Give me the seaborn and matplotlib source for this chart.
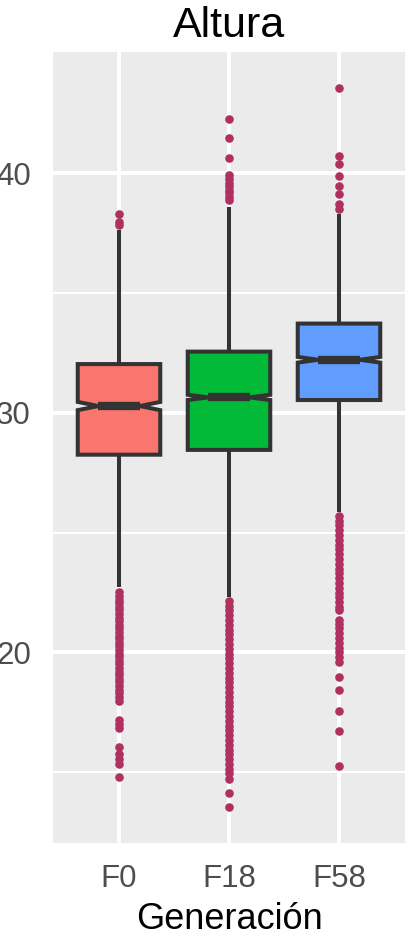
import matplotlib
matplotlib.use("Agg")
import matplotlib.pyplot as plt
import pandas as pd
import seaborn as sns

# ---------------- data ----------------
generaciones = ["F0", "F18", "F58"]
colores = ["#F8766D", "#00BA38", "#619CFF"]
color_atipico = "#B03060"

q1 = [28.25, 28.45, 30.53]
mediana = [30.28, 30.64, 32.21]
q3 = [32.03, 32.55, 33.72]
bigote_inf = [22.72, 22.33, 25.85]
bigote_sup = [37.61, 38.58, 38.30]
n_obs = [1200, 3500, 1800]

atip_inf_F0 = [22.52, 22.35, 22.2, 22.05, 21.9, 21.75, 21.6, 21.45, 21.3, 21.15,
               21.0, 20.85, 20.7, 20.55, 20.4, 20.25, 20.1, 19.95, 19.8, 19.65,
               19.5, 19.35, 19.2, 19.05, 18.9, 18.75, 18.6, 18.45, 18.3, 18.15,
               17.97, 17.2, 17.0, 16.85, 16.06, 15.75, 15.55, 15.35, 14.8]
atip_sup_F0 = [38.31, 37.95, 37.83]

atip_inf_F18 = [22.13, 21.95, 21.75, 21.55, 21.35, 21.15, 20.95, 20.75, 20.55, 20.35,
                20.15, 19.95, 19.75, 19.55, 19.35, 19.15, 18.95, 18.75, 18.55, 18.35,
                18.15, 17.95, 17.75, 17.55, 17.35, 17.15, 16.95, 16.75, 16.55, 16.35,
                16.15, 15.95, 15.75, 15.55, 15.35, 15.15, 14.95, 14.73, 14.15, 13.55]
atip_sup_F18 = [42.24, 41.45, 40.61, 39.92, 39.75, 39.6, 39.45, 39.3, 39.15, 39.0, 38.87]

atip_inf_F58 = [25.7, 25.5, 25.3, 25.1, 24.9, 24.7, 24.5, 24.3, 24.1, 23.9,
                23.7, 23.5, 23.3, 23.1, 22.9, 22.7, 22.5, 22.3, 22.1, 21.9,
                21.75, 21.35, 21.2, 21.0, 20.8, 20.6, 20.4, 20.2, 20.0, 19.8,
                19.62, 18.97, 18.42, 17.54, 16.72, 15.26]
atip_sup_F58 = [43.55, 40.71, 40.36, 39.88, 39.46, 39.11, 38.70, 38.52]

atipicos_inf = [atip_inf_F0, atip_inf_F18, atip_inf_F58]
atipicos_sup = [atip_sup_F0, atip_sup_F18, atip_sup_F58]


# Build a sample for each group that reproduces the read box statistics
def muestra(i):
    lo = sorted(atipicos_inf[i])
    hi = sorted(atipicos_sup[i])
    N = n_obs[i]
    L = len(lo) + 1
    H = len(hi) + 1
    p25, p50, p75 = 0.25 * (N - 1), 0.5 * (N - 1), 0.75 * (N - 1)
    b1 = int(round((p25 + p50) / 2))
    b2 = int(round((p50 + p75) / 2))
    vals = (lo + [bigote_inf[i]]
            + [q1[i]] * (b1 - L)
            + [mediana[i]] * (b2 - b1)
            + [q3[i]] * (N - H - b2)
            + [bigote_sup[i]] + hi)
    return vals


filas = []
for i, g in enumerate(generaciones):
    for v in muestra(i):
        filas.append((g, v))
df = pd.DataFrame(filas, columns=["Generación", "Altura"])

# ---------------- plot ----------------
sns.set_style("white")
plt.rcParams["font.family"] = ["Liberation Sans", "DejaVu Sans"]

fig = plt.figure(figsize=(4.13, 9.44), dpi=100)
ax = fig.add_axes([53 / 413, 1 - 843 / 944, 352 / 413, 791 / 944])

sns.boxplot(
    data=df, x="Generación", y="Altura", hue="Generación",
    order=generaciones, hue_order=generaciones, palette=colores,
    saturation=1, width=0.75, linecolor="#333333", linewidth=2.9,
    fliersize=6.2, whis=1.5, notch=True, showcaps=False,
    flierprops=dict(marker="o", markerfacecolor=color_atipico,
                    markeredgecolor=color_atipico, markeredgewidth=0),
    medianprops=dict(linewidth=6),
    legend=False, ax=ax,
)

ax.set_xlim(-0.6, 2.6)
ax.set_ylim(12.05, 45.05)
ax.set_yticks([20, 30, 40])
ax.set_yticks([15, 25, 35], minor=True)
ax.set_facecolor("#EBEBEB")
ax.set_axisbelow(True)
ax.grid(which="major", axis="both", color="white", linewidth=2.9)
ax.grid(which="minor", axis="y", color="white", linewidth=1.45)
for s in ax.spines.values():
    s.set_visible(False)

ax.tick_params(which="major", length=8, width=2.9, color="#333333",
               labelsize=22.5, labelcolor="#4D4D4D")
ax.tick_params(axis="y", which="major", pad=8)
ax.tick_params(axis="x", which="major", pad=7)
ax.tick_params(which="minor", length=0)

ax.set_xlabel("Generación", fontsize=26, labelpad=6, color="black")
ax.set_ylabel("")
ax.set_title("Altura", fontsize=31, pad=11, color="black")

fig.savefig("out.png", dpi=100)
